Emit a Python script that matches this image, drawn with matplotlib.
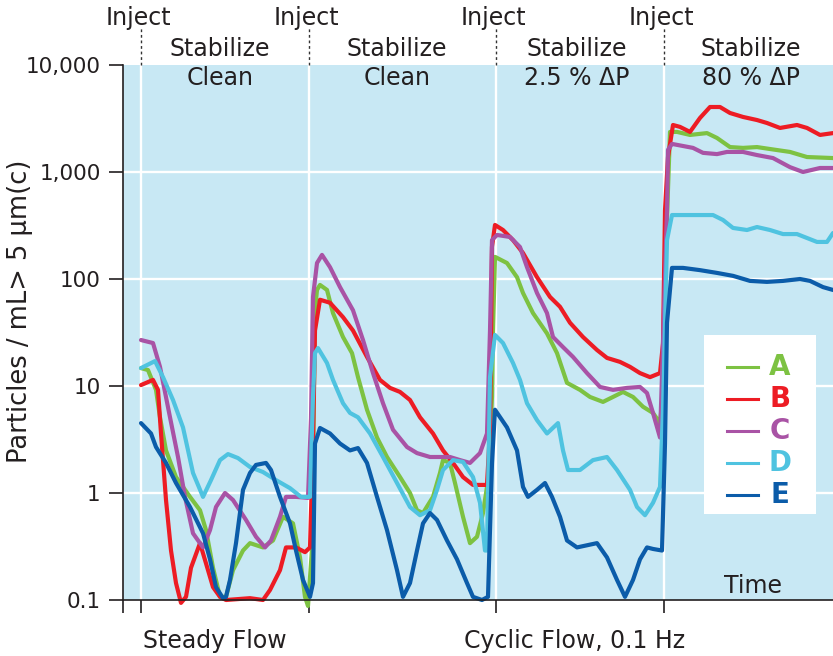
import matplotlib
matplotlib.use("Agg")
import matplotlib.pyplot as plt
import matplotlib.transforms as mtransforms
from matplotlib.lines import Line2D
from matplotlib.patches import Rectangle

plt.rcParams["font.family"] = ["DejaVu Sans"]
INK = "#231f20"

# Time axis (arbitrary units) and phase markers
inject_times = [18, 186, 373, 541]
x_max = 710

# Particle counts per sample (particles / mL > 5 um(c))
A_t = [18, 25, 33, 37, 43, 53, 67, 77, 83, 90, 97, 103, 110, 120, 127, 140, 150, 160, 170, 177,
       182, 185, 189, 192, 194, 197, 204, 210, 220, 229, 235, 244, 254, 264, 277, 287, 294, 300,
       310, 317, 320, 327, 332, 340, 347, 354, 360, 365, 369, 370, 372, 384, 394, 400, 410, 424,
       434, 444, 457, 467, 480, 490, 500, 510, 520, 530, 537, 540, 543, 547, 554, 567, 584, 594,
       607, 620, 634, 647, 667, 684, 710]
A_v = [14.7, 14.1, 9.2, 5.1, 2.5, 1.41, 0.92, 0.69, 0.45, 0.20, 0.107, 0.107, 0.19, 0.29, 0.34,
       0.31, 0.36, 0.60, 0.52, 0.25, 0.107, 0.088, 0.3, 50, 79, 88, 79, 48, 28.7, 20.3, 12.1, 6.0,
       3.3, 2.17, 1.41, 1.0, 0.69, 0.65, 0.92, 1.54, 2.03, 1.91, 1.24, 0.60, 0.34, 0.39, 0.65, 1.32,
       7.9, 33, 161, 141, 104, 74, 48, 31, 20.3, 10.7, 9.2, 7.9, 7.1, 7.9, 8.8, 7.9, 6.4, 5.6, 4.5,
       8.6, 200, 2370, 2370, 2220, 2310, 2080, 1710, 1680, 1710, 1640, 1540, 1380, 1350]

B_t = [18, 30, 35, 38, 43, 48, 53, 58, 63, 68, 77, 83, 90, 97, 103, 127, 140, 147, 157, 163, 173,
       182, 187, 190, 192, 197, 207, 220, 230, 244, 257, 267, 277, 287, 297, 310, 320, 330, 340,
       350, 364, 367, 369, 372, 380, 390, 400, 414, 427, 437, 447, 460, 474, 484, 497, 507, 517,
       527, 537, 540, 542, 545, 550, 557, 567, 577, 587, 597, 607, 620, 634, 644, 657, 674, 684,
       697, 710]
B_v = [10.2, 11.4, 9.2, 3.6, 0.86, 0.29, 0.144, 0.094, 0.107, 0.20, 0.34, 0.22, 0.132, 0.107, 0.10,
       0.104, 0.10, 0.124, 0.19, 0.31, 0.31, 0.28, 0.31, 3, 33, 64, 60, 44, 33, 18.7, 11.4, 9.6, 8.8,
       7.4, 5.1, 3.6, 2.5, 1.91, 1.41, 1.19, 1.19, 3.9, 200, 320, 287, 231, 175, 104, 68, 55, 39,
       28.7, 21.7, 18.3, 16.8, 15.1, 13.2, 12.1, 13.2, 25, 440, 1380, 2750, 2640, 2370, 3200, 4050,
       4050, 3560, 3270, 3060, 2870, 2580, 2750, 2580, 2220, 2310]

C_t = [18, 30, 37, 47, 55, 62, 70, 80, 87, 93, 102, 110, 123, 133, 142, 148, 157, 163, 173, 185,
       188, 190, 194, 199, 207, 217, 230, 240, 250, 260, 270, 284, 294, 307, 327, 337, 347, 357,
       364, 367, 369, 374, 387, 397, 404, 414, 424, 430, 440, 450, 464, 477, 490, 504, 517, 524,
       530, 537, 540, 544, 545, 549, 560, 570, 580, 594, 604, 620, 634, 650, 667, 680, 697, 710]
C_v = [26.9, 25.2, 15.1, 5.1, 2.17, 0.92, 0.42, 0.31, 0.45, 0.74, 1.0, 0.86, 0.56, 0.39, 0.31, 0.36,
       0.60, 0.92, 0.92, 0.90, 5, 68, 141, 168, 129, 84, 51, 26.9, 13.2, 6.9, 3.9, 2.69, 2.36, 2.17,
       2.17, 2.03, 1.91, 2.36, 3.6, 33, 231, 258, 247, 199, 129, 74, 48, 28.7, 23.1, 18.7, 13.2, 9.8,
       9.2, 9.6, 9.8, 8.6, 5.6, 3.3, 25, 440, 1610, 1830, 1750, 1680, 1510, 1470, 1540, 1540, 1440,
       1350, 1110, 1000, 1090, 1090]

D_t = [18, 32, 40, 50, 60, 70, 80, 88, 97, 105, 115, 127, 140, 153, 167, 178, 187, 190, 192, 195,
       204, 210, 220, 227, 235, 247, 260, 274, 287, 297, 307, 314, 320, 330, 340, 350, 357, 362,
       364, 367, 372, 380, 390, 397, 404, 414, 424, 435, 440, 445, 457, 470, 484, 494, 507, 514,
       522, 530, 537, 540, 544, 549, 560, 590, 600, 610, 624, 634, 647, 660, 674, 694, 704, 710]
D_v = [14.7, 17.1, 12.1, 7.4, 4.1, 1.54, 0.92, 1.32, 2.03, 2.31, 2.12, 1.75, 1.57, 1.32, 1.11, 0.92,
       0.92, 8, 20.3, 22.6, 16.4, 11.4, 6.9, 5.6, 5.1, 3.6, 2.17, 1.24, 0.74, 0.62, 0.69, 1.07, 1.64,
       2.03, 1.95, 1.41, 0.81, 0.29, 0.29, 12.1, 30, 25.2, 16.4, 11.4, 6.9, 4.8, 3.6, 4.5, 2.5, 1.64,
       1.64, 2.03, 2.17, 1.64, 1.07, 0.74, 0.62, 0.81, 1.14, 6.0, 231, 396, 396, 396, 356, 300, 287,
       306, 287, 263, 263, 222, 222, 269]

E_t = [18, 28, 33, 43, 53, 67, 80, 87, 93, 100, 103, 107, 113, 120, 127, 133, 143, 148, 157, 167,
       173, 180, 187, 190, 192, 197, 207, 217, 227, 235, 244, 254, 264, 274, 280, 287, 294, 300, 307,
       314, 324, 334, 344, 350, 359, 365, 369, 372, 384, 394, 400, 405, 414, 422, 429, 437, 444, 454,
       474, 484, 494, 502, 510, 517, 524, 530, 539, 542, 544, 549, 560, 577, 594, 610, 627, 644, 660,
       677, 687, 700, 710]
E_v = [4.5, 3.6, 2.69, 1.91, 1.24, 0.74, 0.42, 0.24, 0.132, 0.104, 0.107, 0.154, 0.34, 1.07, 1.54,
       1.83, 1.91, 1.64, 0.92, 0.52, 0.29, 0.154, 0.107, 0.144, 2.9, 4.05, 3.6, 2.9, 2.5, 2.63, 1.91,
       0.92, 0.45, 0.19, 0.107, 0.144, 0.29, 0.52, 0.65, 0.56, 0.36, 0.24, 0.144, 0.107, 0.10, 0.107,
       1.9, 6.0, 4.1, 2.5, 1.14, 0.92, 1.07, 1.24, 0.92, 0.60, 0.36, 0.31, 0.34, 0.25, 0.154, 0.107,
       0.154, 0.24, 0.31, 0.30, 0.29, 2.9, 39, 127, 127, 121, 114, 107, 96, 94, 96, 100, 96, 84, 79]

series_names = ["A", "B", "C", "D", "E"]
series_colors = ["#7dc242", "#ed1c24", "#a953a5", "#4fc3e0", "#0b5ca9"]
series_data = [(A_t, A_v), (B_t, B_v), (C_t, C_v), (D_t, D_v), (E_t, E_v)]

y_ticks = [0.1, 1, 10, 100, 1000, 10000]
y_tick_labels = ["0.1", "1", "10", "100", "1,000", "10,000"]

phase_top = ["Stabilize", "Stabilize", "Stabilize", "Stabilize"]
phase_bottom = ["Clean", "Clean", "2.5 % \u0394P", "80 % \u0394P"]
phase_centers = [97, 274, 454, 628]

fig = plt.figure(figsize=(8.33, 6.56), dpi=100)
ax = fig.add_axes([123 / 833, 56 / 656, 710 / 833, 535 / 656])
ax.set_facecolor("#c8e8f4")
ax.set_yscale("log")
ax.set_ylim(0.1, 10000)
ax.set_xlim(0, x_max)

# white grid and phase separators
for yv in [1, 10, 100, 1000]:
    ax.axhline(yv, color="white", lw=1.7, zorder=1)
for xv in inject_times:
    ax.axvline(xv, color="white", lw=1.7, zorder=1)

for (t, v), c in zip(series_data, series_colors):
    ax.plot(t, v, color=c, lw=3.0, solid_joinstyle="round", solid_capstyle="round",
            zorder=3, clip_on=False)

ax.set_yticks(y_ticks)
ax.set_yticklabels(y_tick_labels)
ax.yaxis.set_minor_locator(matplotlib.ticker.NullLocator())
ax.set_xticks([0] + inject_times)
ax.set_xticklabels([])
ax.tick_params(axis="y", direction="out", length=10, width=1.2, color=INK, pad=6,
               labelsize=15.5, labelcolor=INK)
ax.tick_params(axis="x", direction="out", length=9, width=1.2, color=INK)
for s in ["top", "right"]:
    ax.spines[s].set_visible(False)
for s in ["left", "bottom"]:
    ax.spines[s].set_color(INK)
    ax.spines[s].set_linewidth(1.2)
    ax.spines[s].set_zorder(4)

# dotted inject markers above the plot
trans = mtransforms.blended_transform_factory(ax.transData, ax.transAxes)
ax.vlines(inject_times, 1.0, 1.069, transform=trans, colors="#333333", lw=1.0,
          linestyles=(0, (2, 2)), clip_on=False)

fig_y = lambda py: 1 - py / 656
transf = mtransforms.blended_transform_factory(ax.transData, fig.transFigure)
for xv in inject_times:
    ax.text(xv - 3, fig_y(18), "Inject", transform=transf, ha="center", va="center",
            fontsize=17, color=INK)
for xc, t1, t2 in zip(phase_centers, phase_top, phase_bottom):
    ax.text(xc, fig_y(49), t1, transform=transf, ha="center", va="center",
            fontsize=17, color=INK)
    ax.text(xc, fig_y(78), t2, transform=transf, ha="center", va="center",
            fontsize=17, color=INK)

ax.text(92, fig_y(641), "Steady Flow", transform=transf, ha="center", va="center",
        fontsize=17, color=INK)
ax.text(452, fig_y(641), "Cyclic Flow, 0.1 Hz", transform=transf, ha="center", va="center",
        fontsize=17, color=INK)
ax.text(630, fig_y(586), "Time", transform=transf, ha="center", va="center",
        fontsize=17, color=INK)

fig.text(20 / 833, fig_y(311), "Particles / mL> 5 \u00b5m(c)", rotation=90,
         ha="center", va="center", fontsize=18.5, color=INK)

# legend panel
box_bottom = (600 - 514) / 535
box_top = (600 - 335) / 535
ax.add_patch(Rectangle((0.818, box_bottom), 0.158, box_top - box_bottom,
                       transform=ax.transAxes, facecolor="white", edgecolor="none", zorder=5))
row_y = [(600 - py) / 535 for py in [367, 399, 431, 463, 495]]
for name, c, ry in zip(series_names, series_colors, row_y):
    ax.add_line(Line2D([0.851, 0.894], [ry, ry], transform=ax.transAxes, color=c, lw=2.2,
                       zorder=6))
    ax.text(0.925, ry, name, transform=ax.transAxes, ha="center", va="center",
            fontsize=20, fontweight="bold", color=c, zorder=6)

fig.savefig("out.png", dpi=100)
